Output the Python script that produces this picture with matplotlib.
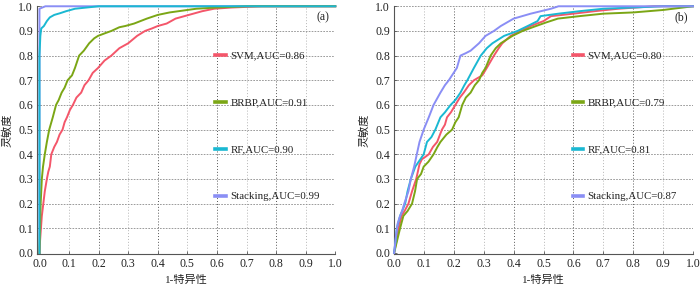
import matplotlib.pyplot as plt
from matplotlib.lines import Line2D

# 글꼴 설정 (숫자는 serif, 한자는 CJK)
plt.rcParams['font.family'] = ['Liberation Serif', 'Noto Sans CJK SC']
plt.rcParams['font.size'] = 8.5

# 모델 이름 / 색상
models = ['SVM', 'BRBP', 'RF', 'Stacking']
colors = ['#F4566A', '#7BA615', '#1AB8D2', '#8A8EF5']
auc_a = [0.86, 0.91, 0.90, 0.99]
auc_b = [0.80, 0.79, 0.81, 0.87]

# (a) ROC 곡선 점
svm_a_fpr = [0, 0.002, 0.005, 0.008, 0.013, 0.018, 0.025, 0.03, 0.035, 0.04, 0.05, 0.059, 0.068, 0.078,
             0.085, 0.093, 0.103, 0.113, 0.125, 0.141, 0.152, 0.166, 0.18, 0.198, 0.22, 0.243, 0.27, 0.30,
             0.33, 0.357, 0.38, 0.40, 0.43, 0.46, 0.49, 0.52, 0.55, 0.59, 0.65, 0.75, 1.0]
svm_a_tpr = [0, 0.05, 0.1, 0.15, 0.2, 0.25, 0.3, 0.33, 0.35, 0.4, 0.43, 0.45, 0.48, 0.5,
             0.53, 0.55, 0.58, 0.6, 0.63, 0.65, 0.68, 0.7, 0.73, 0.75, 0.78, 0.8, 0.83, 0.85,
             0.88, 0.9, 0.91, 0.92, 0.93, 0.95, 0.96, 0.97, 0.98, 0.99, 0.995, 1.0, 1.0]
brbp_a_fpr = [0, 0.002, 0.004, 0.008, 0.012, 0.018, 0.025, 0.033, 0.045, 0.056, 0.065, 0.075, 0.085,
              0.095, 0.11, 0.12, 0.134, 0.15, 0.168, 0.185, 0.198, 0.22, 0.243, 0.27, 0.29, 0.32,
              0.363, 0.40, 0.44, 0.47, 0.53, 0.6, 0.7, 1.0]
brbp_a_tpr = [0, 0.1, 0.2, 0.3, 0.35, 0.4, 0.45, 0.5, 0.55, 0.6, 0.62, 0.65, 0.67,
              0.7, 0.72, 0.75, 0.8, 0.82, 0.85, 0.87, 0.88, 0.89, 0.9, 0.915, 0.92, 0.93,
              0.95, 0.965, 0.975, 0.98, 0.99, 0.995, 1.0, 1.0]
rf_a_fpr = [0, 0, 0.003, 0.006, 0.015, 0.025, 0.035, 0.05, 0.07, 0.09, 0.12, 0.16, 0.2, 1.0]
rf_a_tpr = [0, 0.8, 0.88, 0.91, 0.92, 0.94, 0.955, 0.965, 0.972, 0.98, 0.99, 0.995, 1.0, 1.0]
stk_a_fpr = [0, 0, 0.02, 1.0]
stk_a_tpr = [0, 0.99, 1.0, 1.0]

# (b) ROC 곡선 점
svm_b_fpr = [0, 0.008, 0.015, 0.025, 0.035, 0.048, 0.06, 0.074, 0.085, 0.093, 0.105, 0.116, 0.13,
             0.144, 0.16, 0.17, 0.177, 0.19, 0.205, 0.22, 0.233, 0.25, 0.267, 0.295, 0.31, 0.334,
             0.35, 0.362, 0.39, 0.424, 0.457, 0.50, 0.525, 0.6, 0.67, 0.75, 0.87, 1.0]
svm_b_tpr = [0, 0.05, 0.1, 0.15, 0.17, 0.2, 0.25, 0.3, 0.36, 0.38, 0.39, 0.4, 0.43,
             0.45, 0.5, 0.52, 0.55, 0.57, 0.6, 0.63, 0.65, 0.68, 0.7, 0.72, 0.75, 0.8,
             0.83, 0.85, 0.88, 0.9, 0.92, 0.94, 0.96, 0.97, 0.98, 0.99, 1.0, 1.0]
brbp_b_fpr = [0, 0.01, 0.02, 0.031, 0.045, 0.06, 0.07, 0.077, 0.09, 0.099, 0.115, 0.132, 0.145,
              0.155, 0.175, 0.194, 0.205, 0.216, 0.228, 0.24, 0.256, 0.27, 0.284, 0.295, 0.306,
              0.323, 0.34, 0.357, 0.396, 0.43, 0.475, 0.51, 0.548, 0.62, 0.7, 0.8, 0.9, 1.0]
brbp_b_tpr = [0, 0.05, 0.1, 0.15, 0.17, 0.2, 0.25, 0.3, 0.32, 0.35, 0.37, 0.4, 0.43,
              0.45, 0.48, 0.5, 0.53, 0.55, 0.6, 0.63, 0.65, 0.68, 0.7, 0.73, 0.75,
              0.8, 0.83, 0.85, 0.88, 0.9, 0.92, 0.935, 0.95, 0.96, 0.97, 0.975, 0.985, 1.0]
rf_b_fpr = [0, 0.005, 0.009, 0.02, 0.037, 0.045, 0.056, 0.065, 0.071, 0.088, 0.099, 0.11, 0.125,
            0.138, 0.155, 0.17, 0.189, 0.205, 0.222, 0.235, 0.245, 0.267, 0.29, 0.31, 0.329,
            0.368, 0.413, 0.447, 0.48, 0.49, 0.55, 0.62, 0.7, 0.9, 1.0]
rf_b_tpr = [0, 0.05, 0.1, 0.15, 0.2, 0.25, 0.3, 0.33, 0.35, 0.38, 0.4, 0.45, 0.47,
            0.5, 0.55, 0.57, 0.6, 0.62, 0.65, 0.68, 0.7, 0.75, 0.8, 0.83, 0.85,
            0.88, 0.9, 0.92, 0.94, 0.96, 0.97, 0.98, 0.99, 1.0, 1.0]
stk_b_fpr = [0, 0.007, 0.012, 0.02, 0.027, 0.034, 0.048, 0.056, 0.067, 0.076, 0.085, 0.099, 0.116,
             0.132, 0.155, 0.17, 0.183, 0.21, 0.222, 0.24, 0.256, 0.284, 0.306, 0.334, 0.357,
             0.40, 0.457, 0.525, 0.55, 1.0]
stk_b_tpr = [0, 0.076, 0.12, 0.15, 0.17, 0.2, 0.25, 0.3, 0.35, 0.4, 0.45, 0.5, 0.55,
             0.6, 0.65, 0.68, 0.7, 0.75, 0.8, 0.81, 0.82, 0.85, 0.88, 0.9, 0.92,
             0.95, 0.97, 0.99, 1.0, 1.0]

ticks = [0.0, 0.1, 0.2, 0.3, 0.4, 0.5, 0.6, 0.7, 0.8, 0.9, 1.0]
tick_labels = ['0.0', '0.1', '0.2', '0.3', '0.4', '0.5', '0.6', '0.7', '0.8', '0.9', '1.0']

panels = [
    ('(a)', [(svm_a_fpr, svm_a_tpr), (brbp_a_fpr, brbp_a_tpr), (rf_a_fpr, rf_a_tpr), (stk_a_fpr, stk_a_tpr)], auc_a, -0.008),
    ('(b)', [(svm_b_fpr, svm_b_tpr), (brbp_b_fpr, brbp_b_tpr), (rf_b_fpr, rf_b_tpr), (stk_b_fpr, stk_b_tpr)], auc_b, 0.0),
]

fig = plt.figure(figsize=(7, 2.85), dpi=100)
ax_a = fig.add_axes([0.053, 0.108, 0.426, 0.87])
ax_b = fig.add_axes([0.563, 0.108, 0.427, 0.87])

text_color = '#222222'

for ax, (tag, curves, aucs, xmin) in zip([ax_a, ax_b], panels):
    # 그리드: 0.2 간격은 진하게, 나머지는 연하게
    for t in ticks[1:]:
        strong = abs(round(t * 10) % 2) == 0
        ax.axvline(t, color='#555555' if strong else '#b5b5b5', lw=0.7, ls=(0, (1, 2)), zorder=0)
    for t in ticks[1:]:
        ax.axhline(t, color='#8a8a8a', lw=0.6, ls=(0, (2, 1.5)), zorder=0)

    # Stacking 먼저 그리고 나머지를 위에
    order = [3, 0, 1, 2] if tag == '(a)' else [0, 1, 2, 3]
    for i in order:
        fpr, tpr = curves[i]
        ax.plot(fpr, tpr, color=colors[i], lw=1.4, zorder=3, clip_on=False)

    ax.set_xlim(xmin, 1.0)
    ax.set_ylim(-0.005, 1.0)
    ax.set_xticks(ticks)
    ax.set_xticklabels(tick_labels)
    ax.set_yticks(ticks)
    ax.set_yticklabels(tick_labels)
    ax.tick_params(direction='in', length=2, width=0.6, colors='#555555', labelcolor=text_color,
                   labelsize=8.5, pad=3)
    for side in ['top', 'right']:
        ax.spines[side].set_visible(False)
    for side in ['left', 'bottom']:
        ax.spines[side].set_color('#555555')
        ax.spines[side].set_linewidth(0.8)

    ax.set_xlabel('1-特异性', color=text_color, fontsize=8, labelpad=3)
    ax.set_ylabel('灵敏度', color=text_color, fontsize=8, labelpad=4)
    ax.text(0.96, 0.955, tag, transform=ax.transAxes, ha='center', va='center', color=text_color, fontsize=8.5)

    # 범례
    handles = [Line2D([0], [0], color=c, lw=2.6) for c in colors]
    labels = ['%s,AUC=%.2f' % (m, a) for m, a in zip(models, aucs)]
    ax.legend(handles, labels, loc='upper left', bbox_to_anchor=(0.597, 0.82), frameon=False,
              fontsize=7.8, handlelength=1.0, handletextpad=0.4, labelspacing=3.45, borderpad=0,
              borderaxespad=0, labelcolor=text_color)

fig.savefig('out.png', dpi=100)
